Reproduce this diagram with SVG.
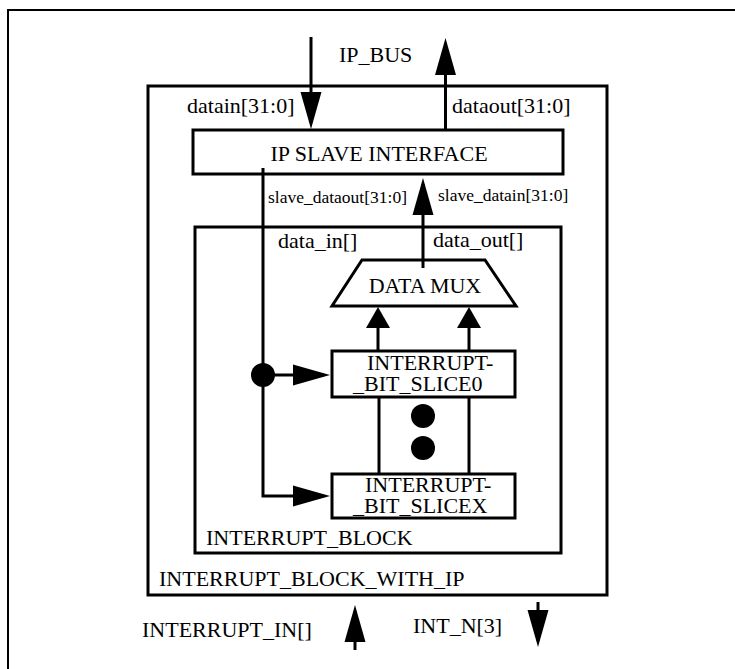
<svg xmlns="http://www.w3.org/2000/svg" width="735" height="669" viewBox="0 0 735 669">
<style>
text{font-family:"Liberation Serif","Times New Roman",serif;font-size:22px;fill:#000}
.sm{font-size:17.5px}
.box{fill:#fff;stroke:#000;stroke-width:3}
.blk{fill:none;stroke:#000;stroke-width:3}
.ln{fill:none;stroke:#000;stroke-width:3}
.big{marker-end:url(#ah)}
.lit{marker-end:url(#as)}
</style>
<defs>
<marker id="ah" markerUnits="userSpaceOnUse" markerWidth="37" markerHeight="21" refX="31" refY="10.5" orient="auto" overflow="visible">
<path d="M0,0 L37,10.5 L0,21 z" fill="#000"/>
</marker>
<marker id="as" markerUnits="userSpaceOnUse" markerWidth="21" markerHeight="24" refX="16" refY="12" orient="auto" overflow="visible">
<path d="M0,0 L21,12 L0,24 z" fill="#000"/>
</marker>
</defs>
<path d="M8,669 V10 H735" fill="none" stroke="#000" stroke-width="2"/>
<g id="interrupt_block_with_ip">
<rect class="blk" x="148" y="86" width="459" height="509"/>
<text x="159" y="586">INTERRUPT_BLOCK_WITH_IP</text>
</g>
<g id="interrupt_block">
<rect class="blk" x="195" y="227" width="366" height="326"/>
<text x="206" y="545">INTERRUPT_BLOCK</text>
</g>
<g id="ip_slave_interface">
<rect class="box" x="193" y="130" width="370" height="44"/>
<text x="379" y="161" text-anchor="middle">IP SLAVE INTERFACE</text>
</g>
<g id="data_mux">
<path class="box" d="M362,260 H485 L516,306 H332 Z"/>
<text x="425" y="293" text-anchor="middle">DATA MUX</text>
</g>
<g id="slice0">
<rect class="box" x="332" y="351" width="183" height="46"/>
<text x="367" y="370">INTERRUPT-</text>
<text x="353" y="391">_BIT_SLICE0</text>
</g>
<g id="slicex">
<rect class="box" x="332" y="474" width="183" height="44"/>
<text x="365" y="492">INTERRUPT-</text>
<text x="353" y="513">_BIT_SLICEX</text>
</g>
<g id="connectors">
<path class="ln big" d="M311,37 V123"/>
<path class="ln big" d="M445.5,130 V44"/>
<path class="ln big" d="M423,268 V184"/>
<path class="ln lit" d="M378,351 V312"/>
<path class="ln lit" d="M469,351 V312"/>
<path class="ln" d="M379,397 V474 M469,397 V474"/>
<path class="ln big" d="M263,168 V496 H324"/>
<path class="ln big" d="M263,375 H324"/>
<circle cx="263" cy="375" r="12" fill="#000"/>
<circle cx="423" cy="416" r="12" fill="#000"/>
<circle cx="423" cy="448" r="12" fill="#000"/>
<path class="ln big" d="M355,650 V611"/>
<path class="ln big" d="M538,602 V641"/>
</g>
<g id="labels">
<text x="339" y="62">IP_BUS</text>
<text x="187" y="113">datain[31:0]</text>
<text x="452" y="113">dataout[31:0]</text>
<text class="sm" x="268" y="203">slave_dataout[31:0]</text>
<text class="sm" x="438" y="201">slave_datain[31:0]</text>
<text x="278" y="248">data_in[]</text>
<text x="433" y="247">data_out[]</text>
<text x="142" y="637">INTERRUPT_IN[]</text>
<text x="413" y="633">INT_N[3]</text>
</g>
</svg>
